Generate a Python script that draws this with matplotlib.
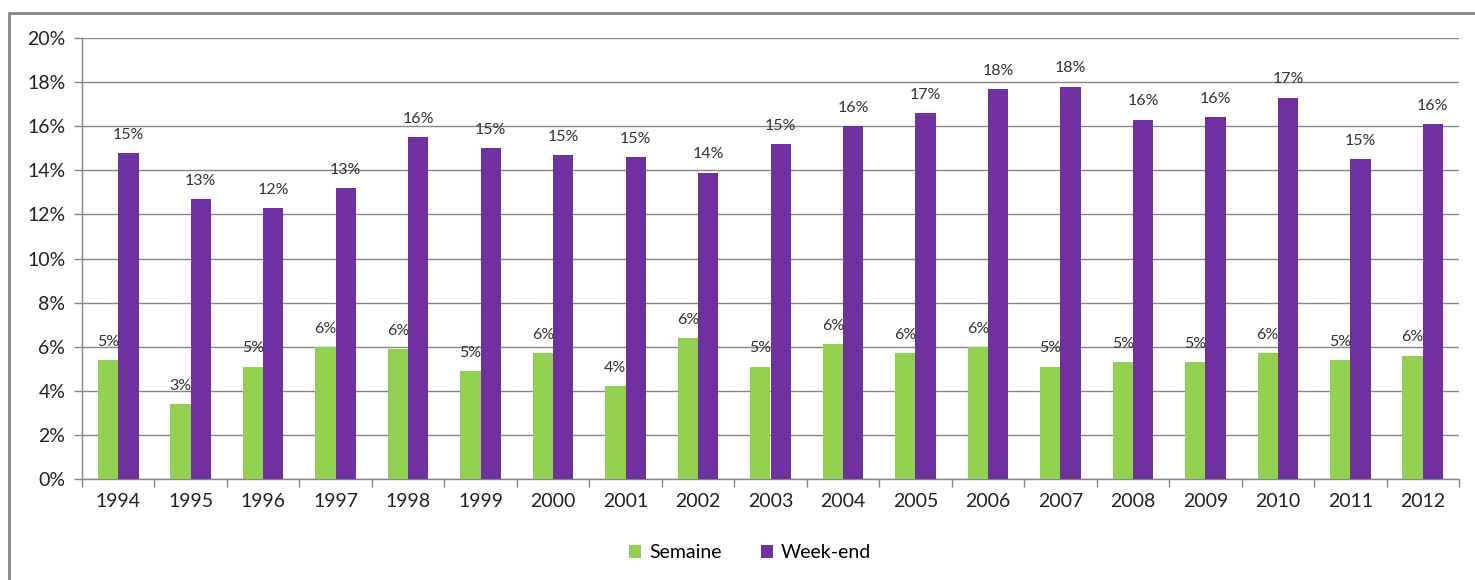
import matplotlib
matplotlib.use("Agg")
import matplotlib.pyplot as plt
import numpy as np
import math
from matplotlib.patches import Rectangle

years = ["1994", "1995", "1996", "1997", "1998", "1999", "2000", "2001", "2002", "2003",
         "2004", "2005", "2006", "2007", "2008", "2009", "2010", "2011", "2012"]
semaine = [5.4, 3.4, 5.1, 6.0, 5.9, 4.9, 5.7, 4.2, 6.4, 5.1,
           6.1, 5.7, 6.0, 5.1, 5.3, 5.3, 5.7, 5.4, 5.6]
weekend = [14.8, 12.7, 12.3, 13.2, 15.5, 15.0, 14.7, 14.6, 13.9, 15.2,
           16.0, 16.6, 17.7, 17.8, 16.3, 16.4, 17.3, 14.5, 16.1]
yticks = [0, 2, 4, 6, 8, 10, 12, 14, 16, 18, 20]

plt.rcParams['font.family'] = ['Lato', 'DejaVu Sans']
W, H = 1475, 580
fig = plt.figure(figsize=(W / 100, H / 100), dpi=100)
ax = fig.add_axes([82 / W, 1 - 479 / H, (1459 - 82) / W, (479 - 38) / H])

x = np.arange(len(years))
bw = 0.28
green = "#92D050"
purple = "#7030A0"
b1 = ax.bar(x - bw / 2, semaine, bw, color=green, label="Semaine", zorder=3)
b2 = ax.bar(x + bw / 2, weekend, bw, color=purple, label="Week-end", zorder=3)

for bars, vals in ((b1, semaine), (b2, weekend)):
    for r, v in zip(bars, vals):
        ax.annotate(f"{math.floor(v + 0.5):d}%", (r.get_x() + r.get_width() / 2, v),
                    xytext=(0, 8), textcoords="offset points", ha="center", va="bottom",
                    fontsize=11.5, color="#333333", zorder=4)

ax.set_xlim(-0.5, len(years) - 0.5)
ax.set_ylim(0, 20)
ax.set_yticks(yticks)
ax.set_yticklabels([f"{t}%" for t in yticks])
ax.set_xticks(x)
ax.set_xticklabels(years)
ax.set_xticks(np.arange(len(years) + 1) - 0.5, minor=True)
ax.tick_params(axis="x", which="major", length=0, pad=10, labelsize=14, labelcolor="#222222")
ax.tick_params(axis="x", which="minor", length=6, color="#868686", width=1)
ax.tick_params(axis="y", length=6, color="#868686", width=1, labelsize=14, labelcolor="#222222", pad=6)
ax.grid(axis="y", color="#868686", linewidth=1, zorder=0)
for s in ("top", "right"):
    ax.spines[s].set_visible(False)
for s in ("left", "bottom"):
    ax.spines[s].set_color("#868686")
    ax.spines[s].set_linewidth(1)

leg = fig.legend(handles=[b1, b2], labels=["Semaine", "Week-end"], loc="center",
                 bbox_to_anchor=(750 / W, 1 - 553 / H), ncol=2, frameon=False,
                 fontsize=14, handlelength=0.65, handleheight=0.65, handletextpad=0.4,
                 columnspacing=2.0)

fig.patches.append(Rectangle((9 / W, -0.1), 1.2, 1 - 13 / H + 0.1, transform=fig.transFigure,
                             fill=False, edgecolor="#868686", linewidth=2))

fig.savefig("out.png", dpi=100)
